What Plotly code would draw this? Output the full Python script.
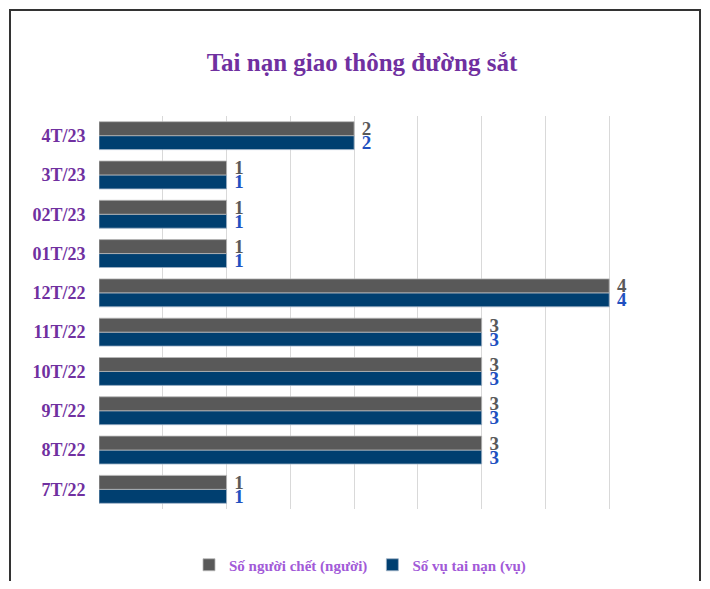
import plotly.graph_objects as go

categories = ["7T/22", "8T/22", "9T/22", "10T/22", "11T/22", "12T/22", "01T/23", "02T/23", "3T/23", "4T/23"]
deaths = [1, 3, 3, 3, 3, 4, 1, 1, 1, 2]
accidents = [1, 3, 3, 3, 3, 4, 1, 1, 1, 2]

FONT = "Liberation Serif"
# the page body adds an 8px offset; the figure is sized to compensate (and avoid scrollbars)
OFF = 8
W, H = 710 - 2 * OFF, 589 - 2 * OFF
PL, PR, PT, PB = 99, 673, 116, 509  # plot area in reference pixels
PW, PH = PR - PL, PB - PT


def px_x(px):
    return (px - PL) / PW


def px_y(py):
    return (PB - py) / PH


fig = go.Figure()
fig.add_trace(go.Bar(
    y=categories, x=accidents, orientation="h", name="Số vụ tai nạn (vụ)",
    marker=dict(color="#003F70", line=dict(color="#9fb3c6", width=0.8)),
    text=[f"\u00a0{v}" for v in accidents], textposition="outside", cliponaxis=False,
    constraintext="none",
    textfont=dict(family=FONT, size=19, color="#2050C0", weight="bold"),
))
fig.add_trace(go.Bar(
    y=categories, x=deaths, orientation="h", name="Số người chết (người)",
    marker=dict(color="#595959", line=dict(color="#b8b8b8", width=0.8)),
    text=[f"\u00a0{v}" for v in deaths], textposition="outside", cliponaxis=False,
    constraintext="none",
    textfont=dict(family=FONT, size=19, color="#595959", weight="bold"),
))

fig.update_layout(
    width=W, height=H,
    margin=dict(l=PL - OFF, r=W - (PR - OFF), t=PT - OFF, b=H - (PB - OFF)),
    paper_bgcolor="white", plot_bgcolor="white",
    barmode="group", bargap=0.29, bargroupgap=0,
    title=dict(text="<b>Tai nạn giao thông đường sắt</b>", x=(362 - OFF) / W, xanchor="center",
               y=1 - (62 - OFF) / H, yanchor="middle",
               font=dict(family=FONT, size=25, color="#7030A0")),
    showlegend=True,
    legend=dict(orientation="h", traceorder="reversed", xref="container", yref="container",
                x=(360 - OFF) / W, xanchor="center", y=1 - (565 - OFF) / H, yanchor="middle",
                font=dict(family=FONT, size=15, color="#A25AD8", weight="bold"), itemwidth=30),
    xaxis=dict(range=[0, 4.5], dtick=0.5, showticklabels=False, showgrid=True,
               gridcolor="#D9D9D9", gridwidth=1, zeroline=False, showline=False, fixedrange=True),
    yaxis=dict(showgrid=False, zeroline=False, showline=False, ticks="outside", ticklen=0,
               tickcolor="white", ticklabelstandoff=9,
               tickfont=dict(family=FONT, size=18, color="#7030A0", weight="bold")),
    shapes=[dict(type="rect", xref="paper", yref="paper",
                 x0=px_x(10), x1=px_x(700),
                 y0=px_y(620), y1=px_y(10),
                 line=dict(color="#333333", width=2), layer="below")],
)

fig.write_html("out.html")
